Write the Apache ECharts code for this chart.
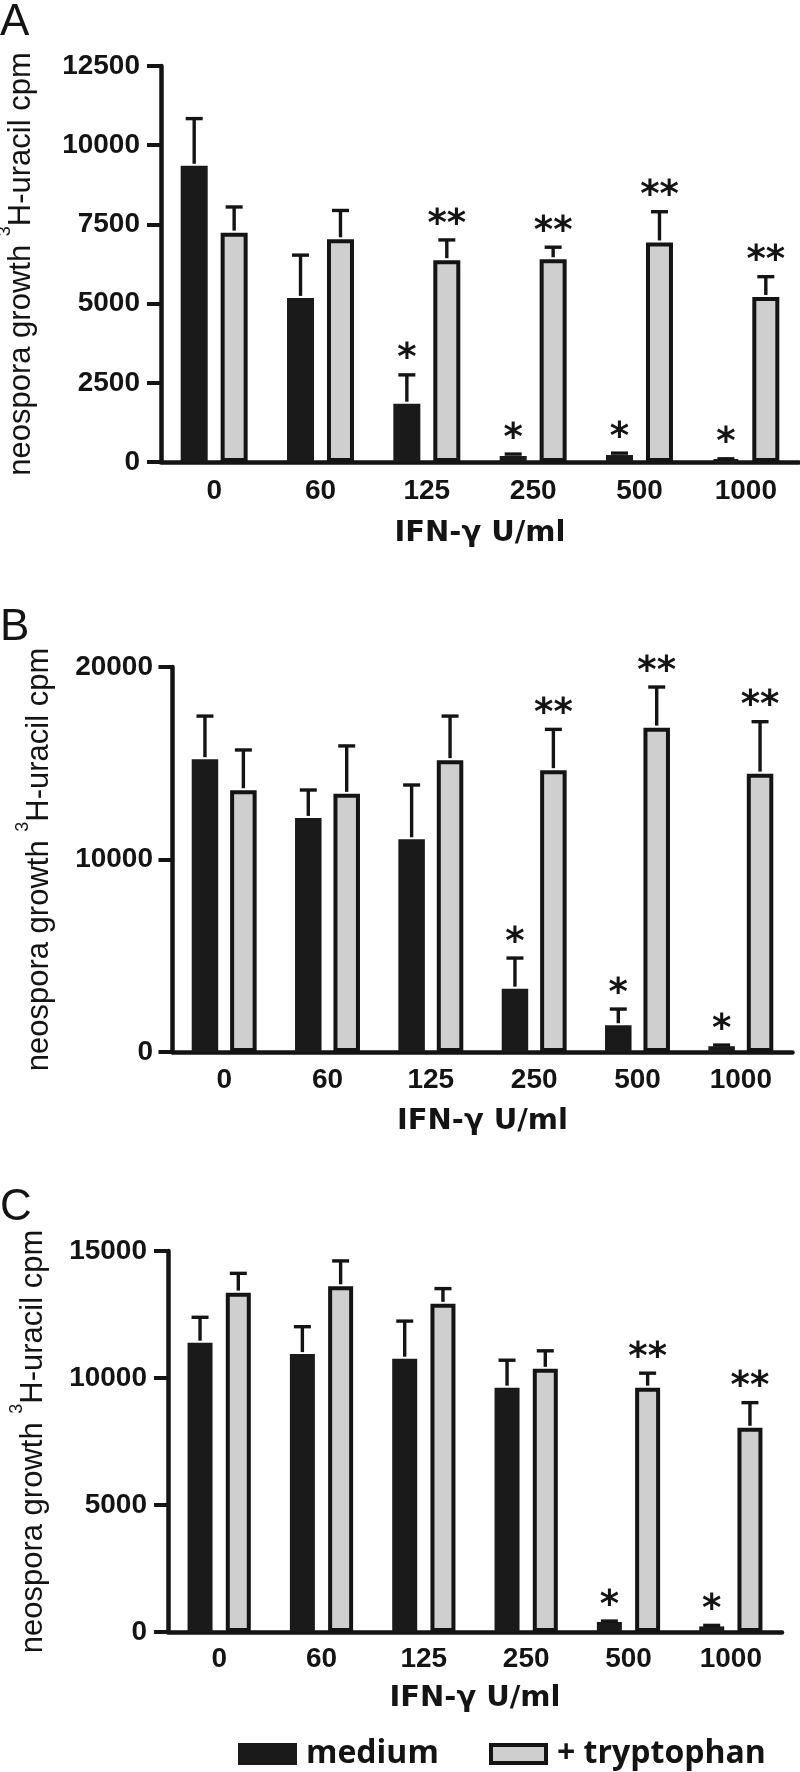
<!DOCTYPE html>
<html><head><meta charset="utf-8">
<script src="https://cdn.jsdelivr.net/npm/echarts@6/dist/echarts.min.js"></script>
<style>html,body{margin:0;padding:0;background:#fff}#c{width:800px;height:1772px}</style>
</head><body><div id="c"></div>
<script>
// ---------- data ----------
const categories = ['0', '60', '125', '250', '500', '1000'];
const seriesNames = ['medium', '+ tryptophan'];
const xTitle = 'IFN-\u03b3 U/ml';
const yTitle = 'neospora growth {sup|3}H-uracil cpm';

// Panel A
const aYTicks = [0, 2500, 5000, 7500, 10000, 12500];
const aMedium = [9350, 5180, 1840, 190, 220, 70];
const aMediumErr = [1490, 1350, 910, 60, 60, 30];
const aTryp = [7240, 7030, 6370, 6400, 6930, 5210];
const aTrypErr = [810, 910, 640, 380, 970, 640];
const aMediumSig = ['', '', '*', '*', '*', '*'];
const aTrypSig = ['', '', '**', '**', '**', '**'];

// Panel B
const bYTicks = [0, 10000, 20000];
const bMedium = [15210, 12160, 11050, 3290, 1390, 300];
const bMediumErr = [2240, 1450, 2820, 1590, 840, 60];
const bTryp = [13600, 13410, 15160, 14640, 16850, 14460];
const bTrypErr = [2090, 2490, 2290, 2120, 2110, 2700];
const bMediumSig = ['', '', '', '*', '*', '*'];
const bTrypSig = ['', '', '', '**', '**', '**'];

// Panel C
const cYTicks = [0, 5000, 10000, 15000];
const cMedium = [11390, 10940, 10760, 9620, 390, 220];
const cMediumErr = [1000, 1080, 1480, 1080, 40, 40];
const cTryp = [13360, 13610, 12920, 10360, 9620, 8040];
const cTrypErr = [760, 1000, 600, 710, 570, 990];
const cMediumSig = ['', '', '', '', '*', '*'];
const cTrypSig = ['', '', '', '', '**', '**'];

// ---------- layout / style ----------
const FF = '"Liberation Sans", Arial, sans-serif';
const INK = '#141414';
const panels = [
  { letter: 'A', ticks: aYTicks, med: aMedium, medErr: aMediumErr, tr: aTryp, trErr: aTrypErr, medSig: aMediumSig, trSig: aTrypSig,
    grid: { left: 161, top: 66, width: 638, height: 396 }, barW: 27, gap: 0.48,
    yNameGap: 115, xNameGap: 57, xLabelMargin: 15, yLabelMargin: 21, letterTop: 1 },
  { letter: 'B', ticks: bYTicks, med: bMedium, medErr: bMediumErr, tr: bTryp, trErr: bTrypErr, medSig: bMediumSig, trSig: bTrypSig,
    grid: { left: 172.5, top: 667, width: 620, height: 385 }, barW: 26.5, gap: 0.45,
    yNameGap: 108, xNameGap: 55, xLabelMargin: 14, yLabelMargin: 19.5, letterTop: 606 },
  { letter: 'C', ticks: cYTicks, med: cMedium, medErr: cMediumErr, tr: cTryp, trErr: cTrypErr, medSig: cMediumSig, trSig: cTrypSig,
    grid: { left: 168, top: 1251, width: 614, height: 381 }, barW: 25, gap: 0.53,
    yNameGap: 107, xNameGap: 52, xLabelMargin: 13.5, yLabelMargin: 21, letterTop: 1186 }
];

function errRender(offset, sig) {
  return function (params, api) {
    const i = api.value(0), v = api.value(1), e = api.value(2);
    const base = api.coord([i, v]);
    const top = api.coord([i, v + e]);
    const x = base[0] + offset;
    const children = [
      { type: 'line', shape: { x1: x, y1: base[1] - 2, x2: x, y2: top[1] }, style: { stroke: INK, lineWidth: 3.4 } },
      { type: 'line', shape: { x1: x - 8.5, y1: top[1], x2: x + 8.5, y2: top[1] }, style: { stroke: INK, lineWidth: 3.4 } }
    ];
    const s = sig[params.dataIndex];
    if (s) {
      children.push({ type: 'text', style: { text: s, x: x, y: top[1] - 15, align: 'center', verticalAlign: 'middle',
        fontSize: 37, fontWeight: 'bold', fontFamily: '"DejaVu Sans"', fill: INK } });
    }
    return { type: 'group', children: children };
  };
}

const grid = [], xAxis = [], yAxis = [], series = [], graphic = [];
panels.forEach((p, k) => {
  grid.push(Object.assign({ outerBoundsMode: 'none', containLabel: false }, p.grid));
  xAxis.push({
    type: 'category', gridIndex: k, data: categories,
    axisLine: { lineStyle: { color: INK, width: 4.5 } },
    axisTick: { alignWithLabel: true, length: 11, lineStyle: { color: INK, width: 4 } },
    axisLabel: { margin: p.xLabelMargin, fontSize: 28, fontWeight: 'bold', fontFamily: FF, color: INK },
    name: xTitle, nameLocation: 'middle', nameGap: p.xNameGap,
    nameTextStyle: { fontSize: 29, fontWeight: 'bold', fontFamily: '"DejaVu Sans", sans-serif', color: INK }
  });
  yAxis.push({
    type: 'value', gridIndex: k,
    min: p.ticks[0], max: p.ticks[p.ticks.length - 1], interval: p.ticks[1] - p.ticks[0],
    axisLine: { show: true, lineStyle: { color: INK, width: 4.5 } },
    axisTick: { show: true, length: 14, lineStyle: { color: INK, width: 4 } },
    splitLine: { show: false },
    axisLabel: { margin: p.yLabelMargin, fontSize: 28, fontWeight: 'bold', fontFamily: FF, color: INK,
      formatter: function (v) { return String(v); } },
    name: yTitle, nameLocation: 'middle', nameRotate: 90, nameGap: p.yNameGap,
    nameTextStyle: { fontSize: 31, fontFamily: FF, color: INK, lineHeight: 50,
      rich: { sup: { fontSize: 18, fontFamily: FF, color: INK, lineHeight: 18, verticalAlign: 'top' } } }
  });
  const gapPct = Math.round(p.gap * 100) + '%';
  const off = p.barW * (1 + p.gap) / 2;
  series.push({
    type: 'bar', name: seriesNames[0], xAxisIndex: k, yAxisIndex: k, data: p.med,
    barWidth: p.barW, barGap: gapPct, silent: true,
    itemStyle: { color: '#1a1a1a', borderColor: '#1a1a1a', borderWidth: 4 }
  });
  series.push({
    type: 'bar', name: seriesNames[1], xAxisIndex: k, yAxisIndex: k, data: p.tr,
    barWidth: p.barW, barGap: gapPct, silent: true,
    itemStyle: { color: '#cfcfcf', borderColor: INK, borderWidth: 4 }
  });
  series.push({
    type: 'custom', xAxisIndex: k, yAxisIndex: k, silent: true, z: 5,
    data: categories.map((c, i) => [i, p.med[i], p.medErr[i]]),
    encode: { x: 0, y: 1 }, renderItem: errRender(-off, p.medSig)
  });
  series.push({
    type: 'custom', xAxisIndex: k, yAxisIndex: k, silent: true, z: 5,
    data: categories.map((c, i) => [i, p.tr[i], p.trErr[i]]),
    encode: { x: 0, y: 1 }, renderItem: errRender(off, p.trSig)
  });
  graphic.push({ type: 'text', left: 0, top: p.letterTop, style: { text: p.letter, fontSize: 44, fontFamily: FF, fill: INK } });
});

const legendBase = {
  top: 1738, padding: 0, icon: 'rect', itemWidth: 55, itemHeight: 18, selectedMode: false,
  itemStyle: { borderWidth: 4 },
  textStyle: { fontSize: 32, fontWeight: 'bold', fontFamily: '"Open Sans", sans-serif', color: INK, padding: [0, 0, 0, 6] }
};

const chart = echarts.init(document.getElementById('c'), null, { renderer: 'canvas' });
chart.setOption({
  animation: false,
  backgroundColor: '#fff',
  grid: grid, xAxis: xAxis, yAxis: yAxis, series: series, graphic: graphic,
  legend: [
    Object.assign({}, legendBase, { data: [seriesNames[0]], left: 238 }),
    Object.assign({}, legendBase, { data: [seriesNames[1]], left: 489 })
  ]
});
</script></body></html>
